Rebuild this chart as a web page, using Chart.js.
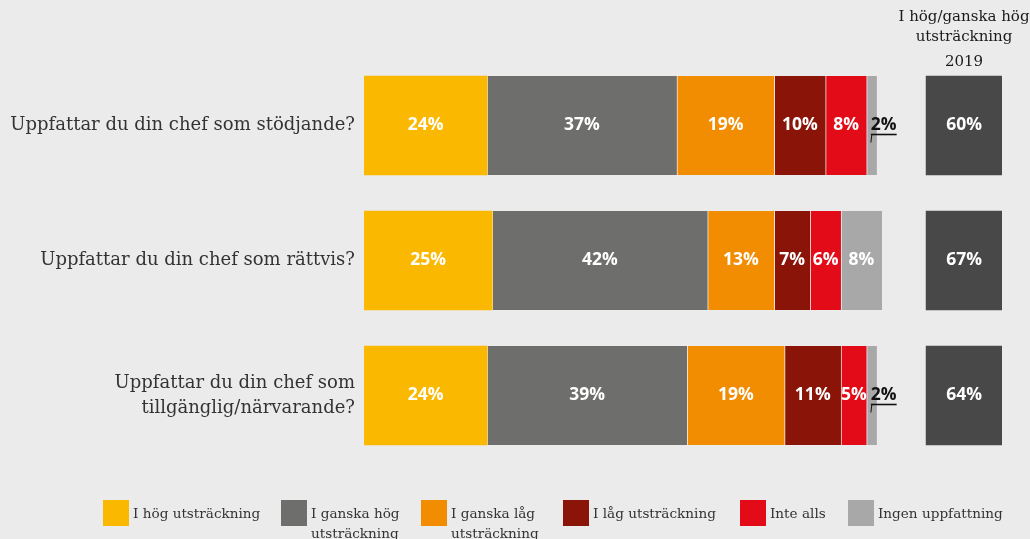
<!DOCTYPE html>
<html lang="sv">
<head>
<meta charset="utf-8">
<title>Uppfattning om chefen</title>
<script src="https://cdn.jsdelivr.net/npm/chart.js@4.4.1/dist/chart.umd.min.js"></script>
<style>
  html, body { margin: 0; padding: 0; background: #ebebeb; }
  #wrap { position: relative; width: 1030px; height: 539px; overflow: hidden; background: #ebebeb; }
  #chart { position: absolute; left: 0; top: 0; }
  .heading { position: absolute; left: 894px; width: 140px; text-align: center;
             font-family: "DejaVu Serif", serif; font-size: 15px; color: #1a1a1a; line-height: 20px; }
  #legend { position: absolute; left: 0; top: 500px; width: 1030px; height: 39px;
            font-family: "DejaVu Serif", serif; font-size: 13.6px; color: #333; line-height: 20px; }
  .item { position: absolute; top: 0; display: flex; align-items: flex-start; white-space: nowrap; }
  .swatch { width: 26px; height: 26px; flex: none; margin-right: 4px; }
  .item span { display: block; padding-top: 3px; }
  .item span.wrap { white-space: normal; width: 96px; }
</style>
</head>
<body>
<div id="wrap">
  <canvas id="chart" width="1030" height="539"></canvas>
  <div class="heading" id="heading" style="top:6px"></div>
  <div class="heading" id="year" style="top:51px"></div>
  <div id="legend"></div>
</div>
<script>
// Frågor (kategorier)
const categories = [
  'Uppfattar du din chef som stödjande?',
  'Uppfattar du din chef som rättvis?',
  ['Uppfattar du din chef som', 'tillgänglig/närvarande?']
];

// Svarsalternativ
const seriesNames = [
  'I hög utsträckning',
  'I ganska hög utsträckning',
  'I ganska låg utsträckning',
  'I låg utsträckning',
  'Inte alls',
  'Ingen uppfattning'
];

// Andel svar per fråga, procent
const hog       = [24, 25, 24];
const ganskaHog = [37, 42, 39];
const ganskaLag = [19, 13, 19];
const lag       = [10, 7, 11];
const inteAlls  = [8, 6, 5];
const ingen     = [2, 8, 2];

// Summa hög/ganska hög utsträckning 2019
const total2019 = [60, 67, 64];
const totalHeading = ['I hög/ganska hög', 'utsträckning'];
const totalYear = '2019';

const seriesValues = [hog, ganskaHog, ganskaLag, lag, inteAlls, ingen];
const seriesColors = ['#fbb800', '#6e6f6d', '#f28c00', '#8a1408', '#e30b17', '#a7a8a7'];
const totalColor = '#484848';

// Skala: 0–124.4 % över diagramytan, summarutan ligger längst till höger
const X_MAX = 124.4;
const TOTAL_BOX = [109.6, X_MAX];

// Förklaringens placering (vänsterkant per post, px)
const legendLeft = [103, 281, 421, 563, 740, 848];

const datasets = seriesValues.map((vals, i) => ({
  label: seriesNames[i],
  data: vals,
  backgroundColor: seriesColors[i],
  borderColor: '#ffffff',
  borderWidth: i === 0 ? 0 : { left: 1, right: 0, top: 0, bottom: 0 },
  borderSkipped: false,
  xAxisID: 'x',
  barThickness: 99
}));

datasets.push({
  label: totalHeading.join(' ') + ' ' + totalYear,
  data: total2019.map(() => TOTAL_BOX.slice()),
  shownValues: total2019,
  backgroundColor: totalColor,
  borderWidth: 0,
  xAxisID: 'x2',
  barThickness: 99,
  isTotal: true
});

// Procentetiketter i och bredvid staplarna
const valueLabels = {
  id: 'valueLabels',
  afterDatasetsDraw(chart) {
    const ctx = chart.ctx;
    ctx.save();
    ctx.font = '700 17.5px "Open Sans", sans-serif';
    ctx.textBaseline = 'middle';
    chart.data.datasets.forEach((ds, di) => {
      const meta = chart.getDatasetMeta(di);
      meta.data.forEach((el, i) => {
        const v = ds.isTotal ? ds.shownValues[i] : ds.data[i];
        const txt = v + '%';
        const start = Math.min(el.x, el.base);
        const end = Math.max(el.x, el.base);
        const y = el.y;
        if (!ds.isTotal && v < 3) {
          // liten andel: svart, understruken etikett med hänvisningsstreck
          const tx = end - 6;
          const w = ctx.measureText(txt).width;
          ctx.fillStyle = '#111';
          ctx.textAlign = 'left';
          ctx.fillText(txt, tx, y);
          ctx.strokeStyle = '#111';
          ctx.lineWidth = 1.6;
          ctx.beginPath();
          ctx.moveTo(tx, y + 9);
          ctx.lineTo(tx + w, y + 9);
          ctx.stroke();
          ctx.lineWidth = 1;
          ctx.beginPath();
          ctx.moveTo(tx + 1, y + 9);
          ctx.lineTo(tx, y + 17);
          ctx.stroke();
        } else {
          ctx.fillStyle = '#ffffff';
          ctx.textAlign = 'center';
          ctx.fillText(txt, (start + end) / 2, y);
        }
      });
    });
    ctx.restore();
  }
};

new Chart(document.getElementById('chart'), {
  type: 'bar',
  data: { labels: categories, datasets },
  options: {
    indexAxis: 'y',
    responsive: false,
    animation: false,
    events: [],
    layout: { padding: { top: 58, bottom: 76, right: 28, left: 0 } },
    plugins: { legend: { display: false }, tooltip: { enabled: false } },
    scales: {
      x: { stacked: true, min: 0, max: X_MAX, display: false },
      x2: { stacked: false, min: 0, max: X_MAX, display: false },
      y: {
        stacked: true,
        grid: { display: false, drawTicks: false },
        border: { display: false },
        afterFit(scale) { scale.width = 364; },
        ticks: {
          padding: 9,
          color: '#333',
          font: { family: '"DejaVu Serif", serif', size: 18, lineHeight: 1.4 }
        }
      }
    }
  },
  plugins: [valueLabels]
});

// Rubrik över summaspalten
document.getElementById('heading').innerHTML = totalHeading.join('<br>');
document.getElementById('year').textContent = totalYear;

// Förklaring
const legend = document.getElementById('legend');
seriesNames.forEach((name, i) => {
  const item = document.createElement('div');
  item.className = 'item';
  item.style.left = legendLeft[i] + 'px';
  const sw = document.createElement('div');
  sw.className = 'swatch';
  sw.style.background = seriesColors[i];
  const txt = document.createElement('span');
  txt.textContent = name;
  if (i === 1 || i === 2) txt.className = 'wrap';
  item.appendChild(sw);
  item.appendChild(txt);
  legend.appendChild(item);
});
</script>
</body>
</html>
